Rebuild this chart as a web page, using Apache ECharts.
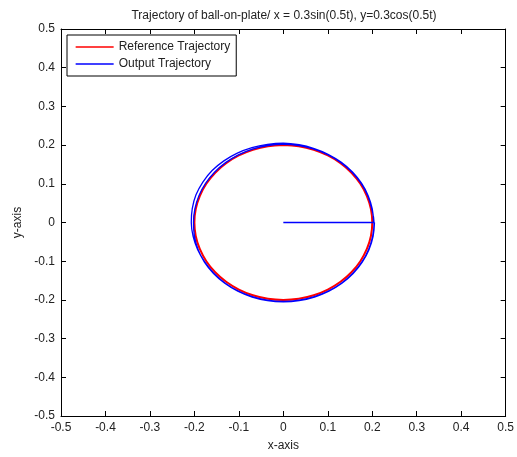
<!DOCTYPE html>
<html>
<head>
<meta charset="utf-8">
<script src="https://cdn.jsdelivr.net/npm/echarts@6/dist/echarts.min.js"></script>
<style>
  html, body { margin: 0; padding: 0; background: #fff; }
  #chart { width: 517px; height: 457px; }
</style>
</head>
<body>
<div id="chart"></div>
<script>
// Reference path of the ball (one full revolution, radius 0.2)
const refX = [0, 0.0347, 0.0684, 0.1, 0.1286, 0.1532, 0.1732, 0.1879, 0.197, 0.2,
  0.197, 0.1879, 0.1732, 0.1532, 0.1286, 0.1, 0.0684, 0.0347, 0,
  -0.0347, -0.0684, -0.1, -0.1286, -0.1532, -0.1732, -0.1879, -0.197, -0.2,
  -0.197, -0.1879, -0.1732, -0.1532, -0.1286, -0.1, -0.0684, -0.0347, 0];
const refY = [0.2, 0.197, 0.1879, 0.1732, 0.1532, 0.1286, 0.1, 0.0684, 0.0347, 0,
  -0.0347, -0.0684, -0.1, -0.1286, -0.1532, -0.1732, -0.1879, -0.197, -0.2,
  -0.197, -0.1879, -0.1732, -0.1532, -0.1286, -0.1, -0.0684, -0.0347, 0,
  0.0347, 0.0684, 0.1, 0.1286, 0.1532, 0.1732, 0.1879, 0.197, 0.2];

// Measured ball position: start at the origin, then two laps around the plate
const outX = [0, 0.203,
  0.203, 0.2, 0.1908, 0.1758, 0.1555, 0.1305, 0.1015, 0.0694, 0.0354, 0,
  -0.0356, -0.0705, -0.1035, -0.1337, -0.1601, -0.181, -0.1964, -0.2048, -0.207,
  -0.2029, -0.1926, -0.1767, -0.1563, -0.1311, -0.102, -0.0698, -0.0354, 0,
  0.0354, 0.0698, 0.102, 0.1311, 0.1563, 0.1767, 0.1917, 0.2009, 0.204,
  0.1989, 0.1898, 0.1749, 0.1547, 0.1298, 0.101, 0.0691, 0.0351, 0,
  -0.0351, -0.0691, -0.101, -0.1298, -0.1547, -0.1749, -0.1898, -0.1989, -0.202,
  -0.1999, -0.1917, -0.1775, -0.157, -0.1318, -0.1025, -0.0701, -0.0356, 0,
  0.0356, 0.0701, 0.1025, 0.1318, 0.157, 0.1775, 0.1926, 0.2019, 0.205];
const outY = [0, 0,
  0, 0.0353, 0.0694, 0.1015, 0.1305, 0.1555, 0.1758, 0.1908, 0.2009, 0.205,
  0.2019, 0.1936, 0.1793, 0.1593, 0.1343, 0.1045, 0.0715, 0.0361, 0,
  -0.0358, -0.0701, -0.102, -0.1311, -0.1563, -0.1767, -0.1917, -0.2009, -0.204,
  -0.2009, -0.1917, -0.1767, -0.1563, -0.1311, -0.102, -0.0698, -0.0354, 0,
  0.0351, 0.0691, 0.101, 0.1298, 0.1547, 0.1749, 0.1898, 0.1989, 0.202,
  0.1989, 0.1898, 0.1749, 0.1547, 0.1298, 0.101, 0.0691, 0.0351, 0,
  -0.0353, -0.0698, -0.1025, -0.1318, -0.157, -0.1775, -0.1926, -0.2019, -0.205,
  -0.2019, -0.1926, -0.1775, -0.157, -0.1318, -0.1025, -0.0701, -0.0356, 0];

const seriesNames = ['Reference Trajectory', 'Output Trajectory'];
const chartTitle = 'Trajectory of ball-on-plate/ x = 0.3sin(0.5t), y=0.3cos(0.5t)';

const zip = (xs, ys) => xs.map((x, i) => [x, ys[i]]);

const FONT = '"Liberation Sans", Arial, Helvetica, sans-serif';
const TXT = '#222';

function axisBase(extra) {
  return Object.assign({
    type: 'value', min: -0.5, max: 0.5, interval: 0.1,
    axisLine: { show: true, onZero: false, lineStyle: { color: '#000', width: 1 } },
    axisTick: { show: true, inside: true, length: 5, lineStyle: { color: '#000' } },
    splitLine: { show: false },
    axisLabel: { color: TXT, fontFamily: FONT, fontSize: 12, margin: 6 },
    nameTextStyle: { color: TXT, fontFamily: FONT, fontSize: 12 }
  }, extra);
}

const chart = echarts.init(document.getElementById('chart'), null, { renderer: 'canvas' });
chart.setOption({
  animation: false,
  backgroundColor: '#fff',
  title: {
    text: chartTitle, left: 284, top: 10, padding: 0, textAlign: 'center',
    textStyle: { color: TXT, fontFamily: FONT, fontSize: 12, fontWeight: 'normal' }
  },
  grid: { left: 61, right: 9, top: 29, bottom: 37, containLabel: false },
  legend: {
    orient: 'vertical', left: 67, top: 35,
    padding: [6, 6, 6, 8], itemGap: 5, itemWidth: 38, itemHeight: 12,
    backgroundColor: '#fff', borderColor: '#000', borderWidth: 1, borderRadius: 0,
    itemStyle: { opacity: 0 },
    lineStyle: { width: 1.3 },
    textStyle: { color: TXT, fontFamily: FONT, fontSize: 12 },
    data: seriesNames
  },
  xAxis: [
    axisBase({ position: 'bottom', name: 'x-axis', nameLocation: 'middle', nameGap: 24 }),
    axisBase({ position: 'top', axisLabel: { show: false } })
  ],
  yAxis: [
    axisBase({ position: 'left', name: 'y-axis', nameLocation: 'middle', nameGap: 28 }),
    axisBase({ position: 'right', axisLabel: { show: false } })
  ],
  series: [
    {
      name: seriesNames[0], type: 'line', symbol: 'none', smooth: 0.4,
      data: zip(refX, refY),
      lineStyle: { color: '#ff0000', width: 2 }, itemStyle: { color: '#ff0000' }
    },
    {
      name: seriesNames[1], type: 'line', symbol: 'none', smooth: 0.4,
      data: zip(outX, outY),
      lineStyle: { color: '#0000ff', width: 1.3 }, itemStyle: { color: '#0000ff' }
    }
  ]
});
</script>
</body>
</html>
